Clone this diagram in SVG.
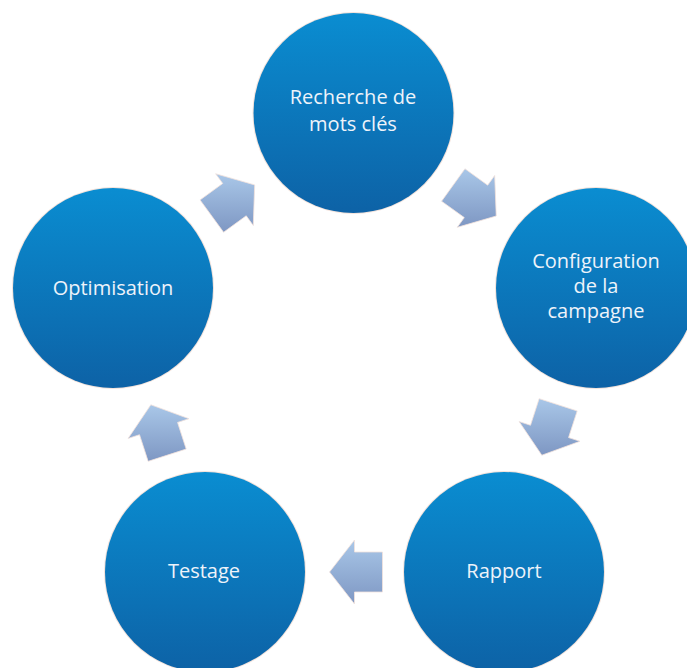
<svg xmlns="http://www.w3.org/2000/svg" width="687" height="668" viewBox="0 0 687 668">
  <defs>
    <linearGradient id="gCircle" x1="0" y1="0" x2="0" y2="1">
      <stop offset="0" stop-color="#0a8dd1"/>
      <stop offset="1" stop-color="#0d62a6"/>
    </linearGradient>
    <linearGradient id="gArrow" x1="0" y1="0" x2="0" y2="1">
      <stop offset="0" stop-color="#a9c7e8"/>
      <stop offset="1" stop-color="#7e97c3"/>
    </linearGradient>
    <style>
      .halo { fill: #f3e3dc; }
      .node { fill: url(#gCircle); }
      .lbl { font-family: "Open Sans", "Noto Sans", "Liberation Sans", sans-serif; font-size: 20px; fill: #eef3fa; text-anchor: middle; }
      .arrow { fill: url(#gArrow); stroke: #f2e2dc; stroke-width: 0.8; stroke-linejoin: miter; }
    </style>
  </defs>
  <rect width="687" height="668" fill="#ffffff"/>

  <g id="connectors">
    <path class="arrow" d="M200.06,199.92 L222.70,183.45 L215.64,173.74 L254.68,184.91 L253.28,225.50 L246.22,215.79 L223.58,232.26 Z"/>
    <path class="arrow" d="M464.96,168.77 L487.67,185.16 L494.69,175.43 L496.24,216.01 L457.25,227.33 L464.27,217.60 L441.56,201.21 Z"/>
    <path class="arrow" d="M577.20,410.95 L568.57,437.59 L579.98,441.29 L541.83,455.21 L519.10,421.57 L530.51,425.27 L539.14,398.63 Z"/>
    <path class="arrow" d="M382.5,592 L354.5,592 L354.5,604 L329.5,572 L354.5,540 L354.5,552 L382.5,552 Z"/>
    <path class="arrow" d="M148.14,461.37 L139.51,434.73 L128.10,438.43 L150.83,404.79 L188.98,418.71 L177.57,422.41 L186.20,449.05 Z"/>
  </g>

  <g id="node-recherche">
    <circle class="halo" cx="353.5" cy="113" r="101"/>
    <circle class="node" cx="353.5" cy="113" r="100"/>
    <text class="lbl" x="353" y="104">Recherche de</text>
    <text class="lbl" x="353" y="131">mots clés</text>
  </g>

  <g id="node-configuration">
    <circle class="halo" cx="596" cy="288" r="101"/>
    <circle class="node" cx="596" cy="288" r="100"/>
    <text class="lbl" x="596" y="268">Configuration</text>
    <text class="lbl" x="596" y="293">de la</text>
    <text class="lbl" x="596" y="318">campagne</text>
  </g>

  <g id="node-rapport">
    <circle class="halo" cx="504" cy="572" r="101"/>
    <circle class="node" cx="504" cy="572" r="100"/>
    <text class="lbl" x="504" y="578">Rapport</text>
  </g>

  <g id="node-testage">
    <circle class="halo" cx="205" cy="572" r="101"/>
    <circle class="node" cx="205" cy="572" r="100"/>
    <text class="lbl" x="204" y="578">Testage</text>
  </g>

  <g id="node-optimisation">
    <circle class="halo" cx="113" cy="288" r="101"/>
    <circle class="node" cx="113" cy="288" r="100"/>
    <text class="lbl" x="113" y="295">Optimisation</text>
  </g>
</svg>
